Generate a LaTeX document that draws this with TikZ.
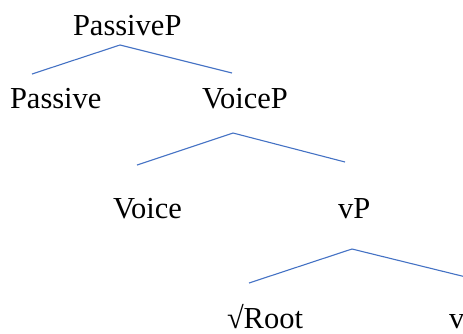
\documentclass[tikz,border=0pt]{standalone}
\usepackage{fontspec}
\setmainfont{Liberation Serif}
\definecolor{treeblue}{HTML}{4472C4}
\begin{document}
\begin{tikzpicture}[x=1pt,y=-1pt,
  lbl/.style={anchor=base west,inner sep=0pt,outer sep=0pt,font=\fontsize{30.5}{36}\selectfont},
  branch/.style={draw=treeblue,line width=1.1pt}]
\useasboundingbox (0,0) rectangle (463,333);
\node[lbl] (passivep) at (73,35) {PassiveP};
\node[lbl] (passive) at (10,108) {Passive};
\node[lbl] (voicep) at (202,108) {VoiceP};
\node[lbl] (voice) at (113,218) {Voice};
\node[lbl] (vp) at (338,218) {vP};
\node[lbl] (root) at (227,328) {√Root};
\node[lbl] (v) at (449,328) {v};
\coordinate (a1) at (120,45);
\coordinate (l1) at (32,74);
\coordinate (r1) at (232,73);
\coordinate (a2) at (233,133);
\coordinate (l2) at (137,165);
\coordinate (r2) at (345,162);
\coordinate (a3) at (352,249);
\coordinate (l3) at (249,283);
\coordinate (r3) at (470,278);
\draw[branch] (l1) -- (a1) -- (r1);
\draw[branch] (l2) -- (a2) -- (r2);
\draw[branch] (l3) -- (a3) -- (r3);
\end{tikzpicture}
\end{document}
